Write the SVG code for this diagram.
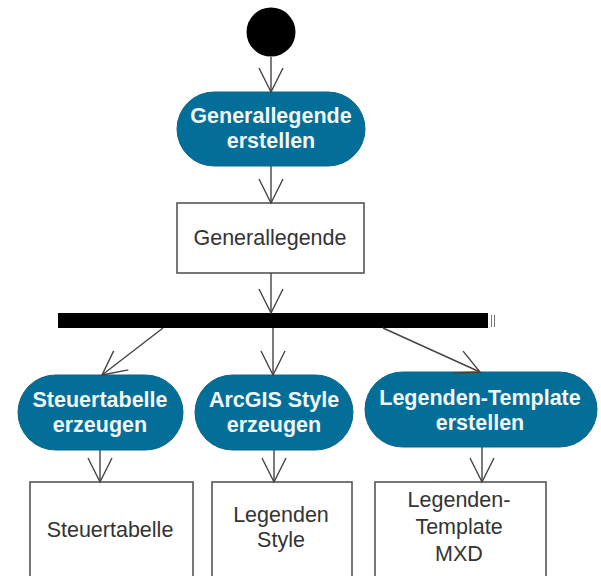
<svg xmlns="http://www.w3.org/2000/svg" width="601" height="576" viewBox="0 0 601 576">
<style>
.pill{fill:#036f98;stroke:#0b6488;stroke-width:1}
.box{fill:#fff;stroke:#555;stroke-width:1.6}
.pt{font-family:"Liberation Sans",Arial,sans-serif;font-weight:bold;font-size:21.5px;fill:#f2f6f8;text-anchor:middle}
.bt{font-family:"Liberation Sans",Arial,sans-serif;font-size:21.5px;fill:#333;text-anchor:middle}
.c{stroke:#444;stroke-width:1.4;fill:none;marker-end:url(#ah)}
</style>
<defs>
<marker id="ah" markerUnits="userSpaceOnUse" viewBox="-26 -14 28 28" markerWidth="28" markerHeight="28" refX="0" refY="0" orient="auto" overflow="visible">
<path d="M-24,-12 L0,0 L-24,12" fill="none" stroke="#444" stroke-width="1.4"/>
</marker>
</defs>
<g id="start"><circle cx="271" cy="32" r="24.5" fill="#000"/></g>
<g id="act1"><rect class="pill" x="177" y="92" width="188" height="74" rx="37"/><text class="pt" x="271" y="123">Generallegende</text><text class="pt" x="271" y="148">erstellen</text></g>
<g id="obj1"><rect class="box" x="177" y="203" width="187" height="70"/><text class="bt" x="270" y="245">Generallegende</text></g>
<g id="fork"><rect x="58" y="313" width="430" height="15" fill="#000"/><path d="M491.5,315 V327 M494.5,315 V327" stroke="#777" stroke-width="1"/></g>
<g id="act2"><rect class="pill" x="18" y="375" width="165" height="75" rx="37.5"/><text class="pt" x="100" y="407">Steuertabelle</text><text class="pt" x="100" y="432">erzeugen</text></g>
<g id="act3"><rect class="pill" x="195" y="375" width="158" height="75" rx="37.5"/><text class="pt" x="274" y="407">ArcGIS Style</text><text class="pt" x="274" y="432">erzeugen</text></g>
<g id="act4"><rect class="pill" x="365" y="372" width="232" height="75" rx="37.5"/><text class="pt" x="480" y="405">Legenden-Template</text><text class="pt" x="480" y="430">erstellen</text></g>
<g id="obj2"><rect class="box" x="30" y="482" width="163" height="100"/><text class="bt" x="110" y="537">Steuertabelle</text></g>
<g id="obj3"><rect class="box" x="212" y="482" width="140" height="100"/><text class="bt" x="281" y="522">Legenden</text><text class="bt" x="281" y="547">Style</text></g>
<g id="obj4"><rect class="box" x="375" y="482" width="171" height="100"/><text class="bt" x="459" y="507">Legenden-</text><text class="bt" x="459" y="534">Template</text><text class="bt" x="459" y="561">MXD</text></g>
<g id="connectors">
<path class="c" d="M271,57 V92"/>
<path class="c" d="M271,166 V203"/>
<path class="c" d="M271,273 V313"/>
<path class="c" d="M163,328 L102,375"/>
<path class="c" d="M273,328 V375"/>
<path class="c" d="M383,328 L480,372"/>
<path class="c" d="M100,450 V482"/>
<path class="c" d="M274,450 V482"/>
<path class="c" d="M482,447 V482"/>
</g>
</svg>
